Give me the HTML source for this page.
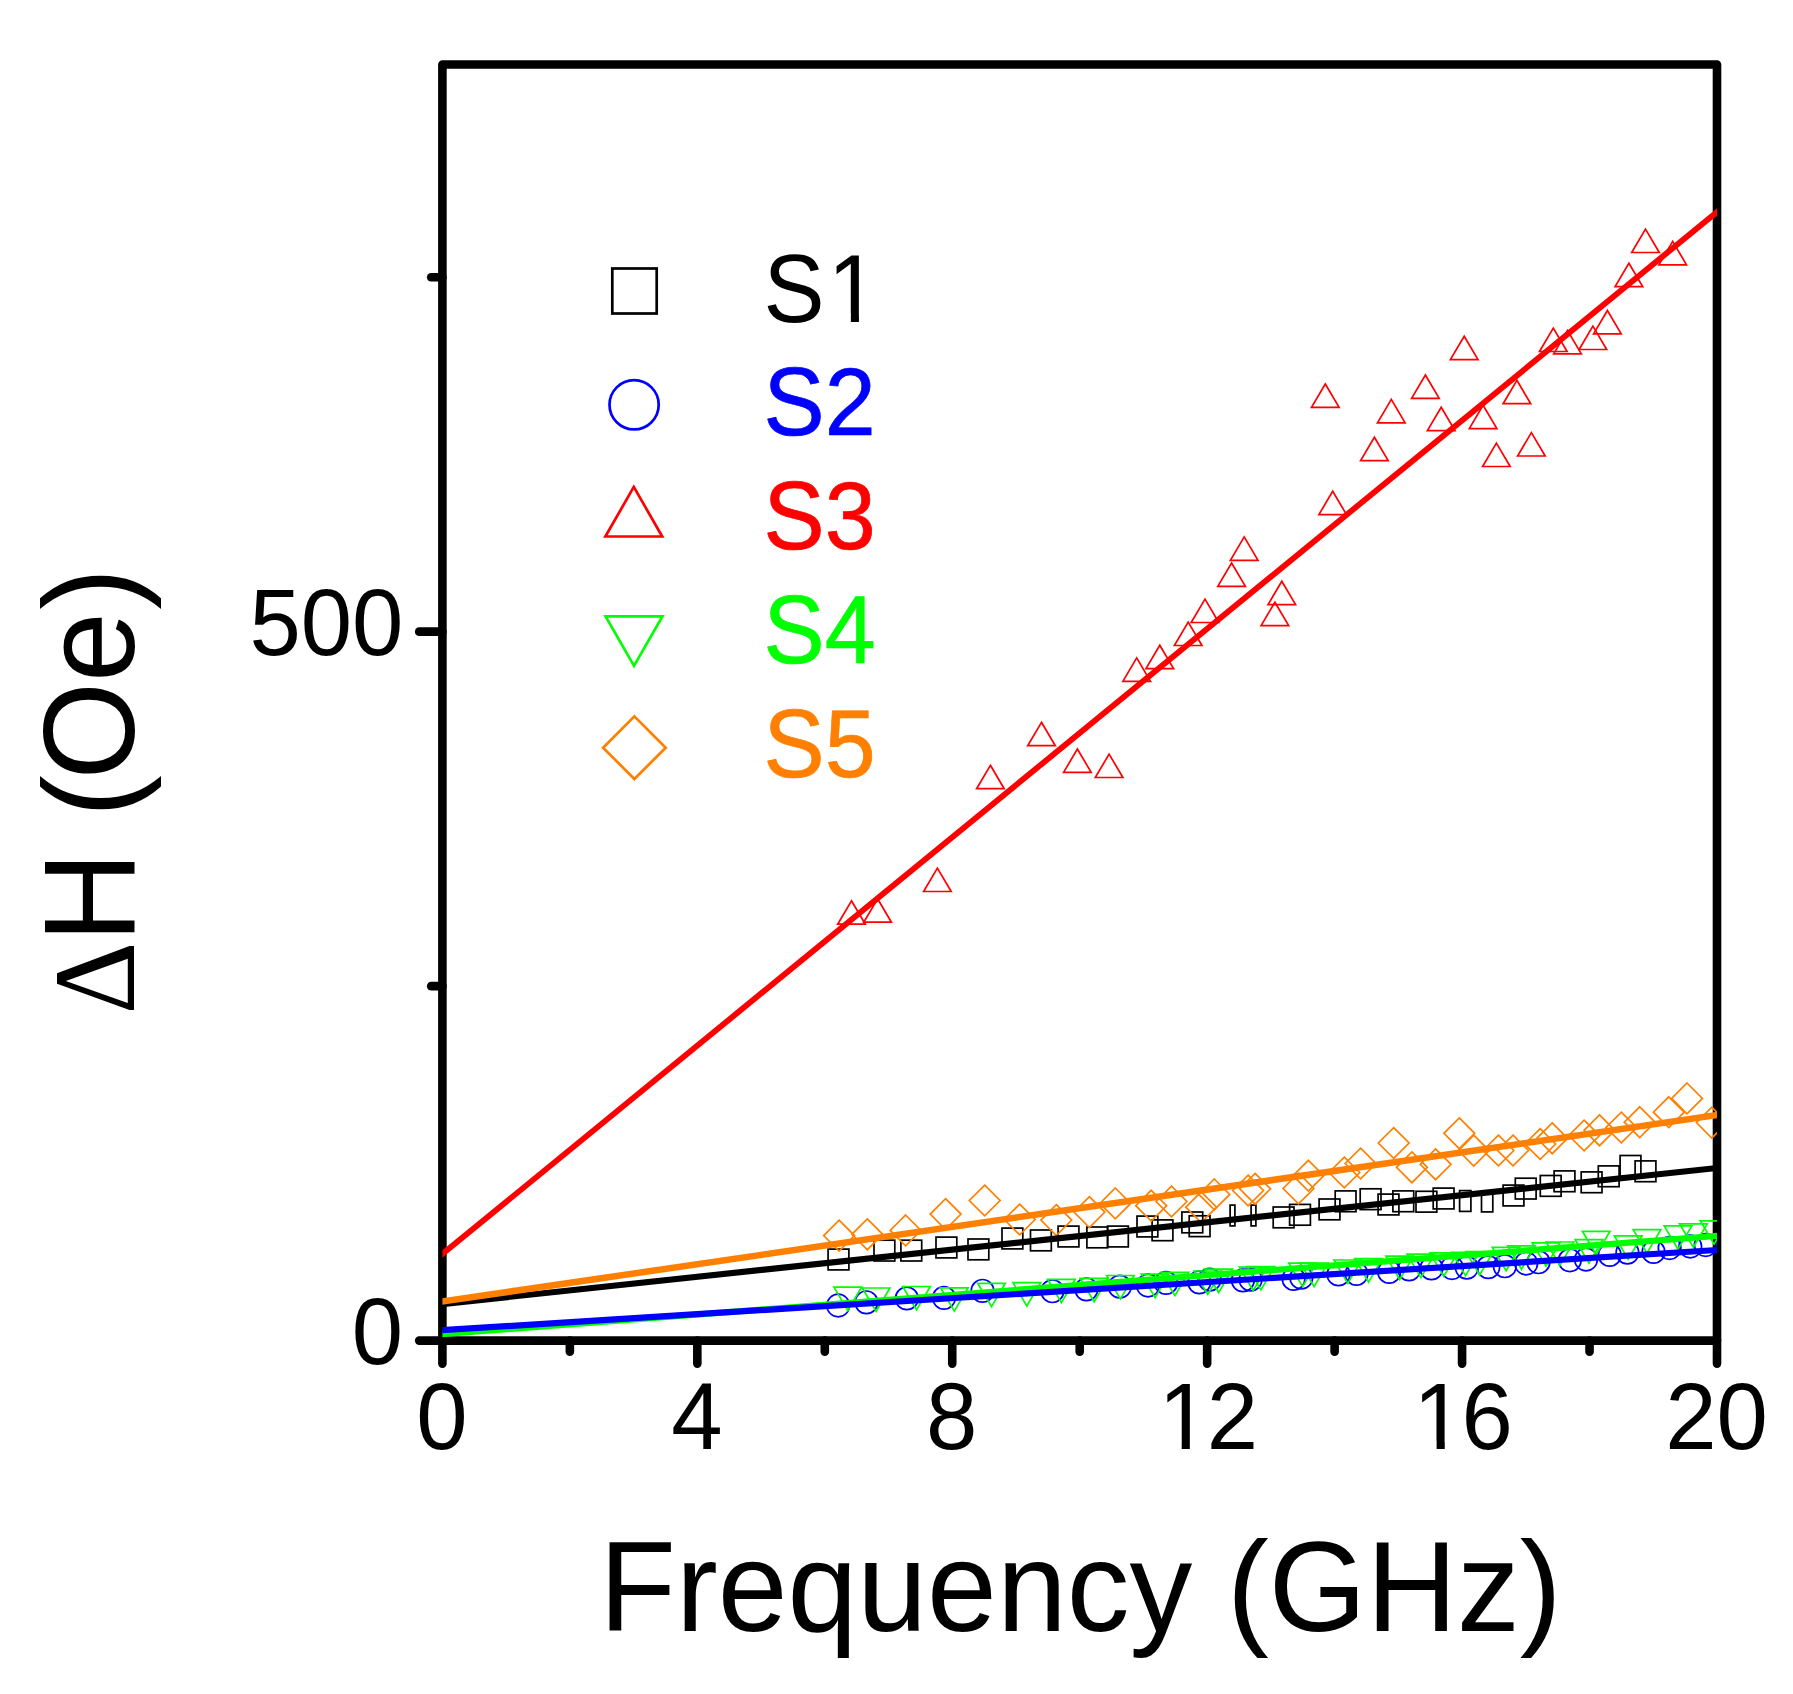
<!DOCTYPE html>
<html lang="en"><head><meta charset="utf-8"><title>Linewidth vs Frequency</title>
<style>
html,body{margin:0;padding:0;background:#fff;}
body{width:1793px;height:1694px;overflow:hidden;}
svg{display:block;}
text{font-family:"Liberation Sans",sans-serif;}
.tick{font-size:92.3px;}
.ttl{font-size:125.5px;}
.mk{fill:none;stroke-width:1.70;stroke-linejoin:miter;}
.ax{stroke:#000;stroke-width:8.60;stroke-linecap:round;fill:none;}
</style></head><body>
<svg width="1793" height="1694" viewBox="0 0 1793 1694">
<rect x="0" y="0" width="1793" height="1694" fill="#ffffff"/>
<rect x="442.40" y="64.50" width="1274.60" height="1276.10" fill="none" stroke="#000" stroke-width="8.60" stroke-linejoin="round"/>
<g class="ax">
<line x1="442.40" y1="1340.60" x2="442.40" y2="1363.60"/>
<line x1="697.32" y1="1340.60" x2="697.32" y2="1363.60"/>
<line x1="952.24" y1="1340.60" x2="952.24" y2="1363.60"/>
<line x1="1207.16" y1="1340.60" x2="1207.16" y2="1363.60"/>
<line x1="1462.08" y1="1340.60" x2="1462.08" y2="1363.60"/>
<line x1="1717.00" y1="1340.60" x2="1717.00" y2="1363.60"/>
<line x1="569.86" y1="1340.60" x2="569.86" y2="1351.80"/>
<line x1="824.78" y1="1340.60" x2="824.78" y2="1351.80"/>
<line x1="1079.70" y1="1340.60" x2="1079.70" y2="1351.80"/>
<line x1="1334.62" y1="1340.60" x2="1334.62" y2="1351.80"/>
<line x1="1589.54" y1="1340.60" x2="1589.54" y2="1351.80"/>
<line x1="442.40" y1="1340.60" x2="419.20" y2="1340.60"/>
<line x1="442.40" y1="631.66" x2="419.20" y2="631.66"/>
<line x1="442.40" y1="986.13" x2="431.20" y2="986.13"/>
<line x1="442.40" y1="277.18" x2="431.20" y2="277.18"/>
</g>
<defs><clipPath id="plotclip"><rect x="442.40" y="64.50" width="1274.60" height="1276.10"/></clipPath></defs>
<g clip-path="url(#plotclip)">
<g class="mk" stroke="#000000">
<rect x="828.1" y="1249.1" width="20.8" height="20.8"/>
<rect x="874.0" y="1240.2" width="20.8" height="20.8"/>
<rect x="900.9" y="1240.2" width="20.8" height="20.8"/>
<rect x="936.0" y="1237.1" width="20.8" height="20.8"/>
<rect x="968.0" y="1239.0" width="20.8" height="20.8"/>
<rect x="1002.0" y="1228.1" width="20.8" height="20.8"/>
<rect x="1030.5" y="1230.0" width="20.8" height="20.8"/>
<rect x="1058.1" y="1226.1" width="20.8" height="20.8"/>
<rect x="1086.9" y="1227.0" width="20.8" height="20.8"/>
<rect x="1107.5" y="1226.1" width="20.8" height="20.8"/>
<rect x="1137.0" y="1216.1" width="20.8" height="20.8"/>
<rect x="1152.1" y="1219.9" width="20.8" height="20.8"/>
<rect x="1181.9" y="1212.0" width="20.8" height="20.8"/>
<rect x="1189.2" y="1215.8" width="20.8" height="20.8"/>
<rect x="1273.2" y="1207.0" width="20.8" height="20.8"/>
<rect x="1289.6" y="1204.4" width="20.8" height="20.8"/>
<rect x="1319.1" y="1199.0" width="20.8" height="20.8"/>
<rect x="1335.2" y="1190.9" width="20.8" height="20.8"/>
<rect x="1360.2" y="1188.8" width="20.8" height="20.8"/>
<rect x="1378.1" y="1194.1" width="20.8" height="20.8"/>
<rect x="1392.9" y="1190.9" width="20.8" height="20.8"/>
<rect x="1416.0" y="1191.3" width="20.8" height="20.8"/>
<rect x="1433.2" y="1188.1" width="20.8" height="20.8"/>
<rect x="1503.1" y="1185.1" width="20.8" height="20.8"/>
<rect x="1515.3" y="1178.2" width="20.8" height="20.8"/>
<rect x="1540.3" y="1175.5" width="20.8" height="20.8"/>
<rect x="1554.1" y="1170.9" width="20.8" height="20.8"/>
<rect x="1581.2" y="1171.9" width="20.8" height="20.8"/>
<rect x="1598.3" y="1165.9" width="20.8" height="20.8"/>
<rect x="1620.1" y="1155.5" width="20.8" height="20.8"/>
<rect x="1635.1" y="1160.9" width="20.8" height="20.8"/>
<rect x="1230.1" y="1205.1" width="4.8" height="20.8"/>
<rect x="1251.1" y="1205.1" width="4.8" height="20.8"/>
<rect x="1459.6" y="1190.6" width="11.3" height="20.8"/>
<rect x="1481.5" y="1191.1" width="11.3" height="20.8"/>
</g>
<g class="mk" stroke="#0000ff">
<circle cx="838.2" cy="1305.5" r="11.3"/>
<circle cx="866.4" cy="1302.3" r="11.3"/>
<circle cx="906.8" cy="1298.4" r="11.3"/>
<circle cx="944.0" cy="1297.8" r="11.3"/>
<circle cx="982.5" cy="1290.8" r="11.3"/>
<circle cx="1052.4" cy="1291.2" r="11.3"/>
<circle cx="1086.4" cy="1289.3" r="11.3"/>
<circle cx="1119.8" cy="1286.7" r="11.3"/>
<circle cx="1148.0" cy="1285.5" r="11.3"/>
<circle cx="1166.0" cy="1282.9" r="11.3"/>
<circle cx="1199.3" cy="1282.3" r="11.3"/>
<circle cx="1209.6" cy="1279.7" r="11.3"/>
<circle cx="1242.9" cy="1280.3" r="11.3"/>
<circle cx="1250.6" cy="1279.7" r="11.3"/>
<circle cx="1293.6" cy="1278.9" r="11.3"/>
<circle cx="1301.3" cy="1277.7" r="11.3"/>
<circle cx="1338.5" cy="1274.4" r="11.3"/>
<circle cx="1356.5" cy="1273.8" r="11.3"/>
<circle cx="1389.2" cy="1271.9" r="11.3"/>
<circle cx="1409.1" cy="1269.3" r="11.3"/>
<circle cx="1431.5" cy="1268.3" r="11.3"/>
<circle cx="1452.0" cy="1268.0" r="11.3"/>
<circle cx="1466.8" cy="1267.6" r="11.3"/>
<circle cx="1488.3" cy="1267.1" r="11.3"/>
<circle cx="1504.8" cy="1266.2" r="11.3"/>
<circle cx="1526.2" cy="1263.5" r="11.3"/>
<circle cx="1538.5" cy="1262.2" r="11.3"/>
<circle cx="1569.8" cy="1260.3" r="11.3"/>
<circle cx="1586.0" cy="1259.5" r="11.3"/>
<circle cx="1609.7" cy="1254.9" r="11.3"/>
<circle cx="1627.4" cy="1252.6" r="11.3"/>
<circle cx="1653.5" cy="1251.9" r="11.3"/>
<circle cx="1669.6" cy="1248.0" r="11.3"/>
<circle cx="1690.3" cy="1246.5" r="11.3"/>
<circle cx="1705.7" cy="1245.0" r="11.3"/>
</g>
<g class="mk" stroke="#ff0000">
<path d="M851.5 900.8L865.3 924.2L837.7 924.2Z"/>
<path d="M877.6 898.8L891.4 922.2L863.8 922.2Z"/>
<path d="M937.4 868.1L951.2 891.5L923.6 891.5Z"/>
<path d="M990.4 765.3L1004.2 788.7L976.6 788.7Z"/>
<path d="M1041.5 722.3L1055.3 745.7L1027.7 745.7Z"/>
<path d="M1077.4 749.0L1091.2 772.4L1063.6 772.4Z"/>
<path d="M1109.1 754.1L1122.9 777.5L1095.3 777.5Z"/>
<path d="M1136.7 657.9L1150.5 681.3L1122.9 681.3Z"/>
<path d="M1159.8 645.2L1173.6 668.6L1146.0 668.6Z"/>
<path d="M1188.2 622.1L1202.0 645.5L1174.4 645.5Z"/>
<path d="M1205.0 599.1L1218.8 622.5L1191.2 622.5Z"/>
<path d="M1231.6 563.0L1245.4 586.4L1217.8 586.4Z"/>
<path d="M1244.2 536.9L1258.0 560.3L1230.4 560.3Z"/>
<path d="M1274.9 602.2L1288.7 625.6L1261.1 625.6Z"/>
<path d="M1281.8 581.2L1295.6 604.6L1268.0 604.6Z"/>
<path d="M1325.3 384.0L1339.1 407.4L1311.5 407.4Z"/>
<path d="M1332.7 491.2L1346.5 514.6L1318.9 514.6Z"/>
<path d="M1374.4 437.2L1388.2 460.6L1360.6 460.6Z"/>
<path d="M1391.3 399.4L1405.1 422.8L1377.5 422.8Z"/>
<path d="M1425.4 375.0L1439.2 398.4L1411.6 398.4Z"/>
<path d="M1441.2 407.2L1455.0 430.6L1427.4 430.6Z"/>
<path d="M1464.2 336.2L1478.0 359.6L1450.4 359.6Z"/>
<path d="M1483.1 405.2L1496.9 428.6L1469.3 428.6Z"/>
<path d="M1496.4 443.1L1510.2 466.5L1482.6 466.5Z"/>
<path d="M1531.4 432.6L1545.2 456.0L1517.6 456.0Z"/>
<path d="M1516.9 380.3L1530.7 403.7L1503.1 403.7Z"/>
<path d="M1553.3 328.1L1567.1 351.5L1539.5 351.5Z"/>
<path d="M1567.5 330.4L1581.3 353.8L1553.7 353.8Z"/>
<path d="M1592.9 326.1L1606.7 349.5L1579.1 349.5Z"/>
<path d="M1607.4 310.5L1621.2 333.9L1593.6 333.9Z"/>
<path d="M1628.9 263.2L1642.7 286.6L1615.1 286.6Z"/>
<path d="M1672.7 241.4L1686.5 264.8L1658.9 264.8Z"/>
<path d="M1645.5 229.1L1659.3 252.5L1631.7 252.5Z"/>
</g>
<g class="mk" stroke="#00ff00">
<path d="M834.0 1287.1L861.6 1287.1L847.8 1310.5Z"/>
<path d="M862.3 1288.0L889.9 1288.0L876.1 1311.4Z"/>
<path d="M902.7 1286.5L930.3 1286.5L916.5 1309.9Z"/>
<path d="M940.5 1287.8L968.1 1287.8L954.3 1311.2Z"/>
<path d="M977.7 1283.3L1005.3 1283.3L991.5 1306.7Z"/>
<path d="M1013.0 1282.6L1040.6 1282.6L1026.8 1306.0Z"/>
<path d="M1047.6 1279.3L1075.2 1279.3L1061.4 1302.7Z"/>
<path d="M1080.3 1278.4L1107.9 1278.4L1094.1 1301.8Z"/>
<path d="M1106.6 1275.5L1134.2 1275.5L1120.4 1298.9Z"/>
<path d="M1141.3 1274.2L1168.9 1274.2L1155.1 1297.6Z"/>
<path d="M1161.1 1272.3L1188.7 1272.3L1174.9 1295.7Z"/>
<path d="M1193.9 1271.0L1221.5 1271.0L1207.7 1294.4Z"/>
<path d="M1204.8 1269.1L1232.4 1269.1L1218.6 1292.5Z"/>
<path d="M1239.4 1267.1L1267.0 1267.1L1253.2 1290.5Z"/>
<path d="M1247.1 1266.5L1274.7 1266.5L1260.9 1289.9Z"/>
<path d="M1288.8 1263.2L1316.4 1263.2L1302.6 1286.6Z"/>
<path d="M1300.3 1263.2L1327.9 1263.2L1314.1 1286.6Z"/>
<path d="M1334.0 1260.0L1361.6 1260.0L1347.8 1283.4Z"/>
<path d="M1354.8 1258.7L1382.4 1258.7L1368.6 1282.1Z"/>
<path d="M1385.9 1256.1L1413.5 1256.1L1399.7 1279.5Z"/>
<path d="M1407.1 1254.2L1434.7 1254.2L1420.9 1277.6Z"/>
<path d="M1429.9 1252.9L1457.5 1252.9L1443.7 1276.3Z"/>
<path d="M1451.7 1252.3L1479.3 1252.3L1465.5 1275.7Z"/>
<path d="M1465.8 1251.6L1493.4 1251.6L1479.6 1275.0Z"/>
<path d="M1492.3 1247.4L1519.9 1247.4L1506.1 1270.8Z"/>
<path d="M1507.7 1245.9L1535.3 1245.9L1521.5 1269.3Z"/>
<path d="M1532.2 1242.8L1559.8 1242.8L1546.0 1266.2Z"/>
<path d="M1546.1 1242.0L1573.7 1242.0L1559.9 1265.4Z"/>
<path d="M1575.2 1239.7L1602.8 1239.7L1589.0 1263.1Z"/>
<path d="M1582.4 1231.3L1610.0 1231.3L1596.2 1254.7Z"/>
<path d="M1614.4 1235.9L1642.0 1235.9L1628.2 1259.3Z"/>
<path d="M1633.2 1229.7L1660.8 1229.7L1647.0 1253.1Z"/>
<path d="M1664.2 1225.9L1691.8 1225.9L1678.0 1249.3Z"/>
<path d="M1679.6 1223.9L1707.2 1223.9L1693.4 1247.3Z"/>
<path d="M1700.3 1220.8L1727.9 1220.8L1714.1 1244.2Z"/>
</g>
<g class="mk" stroke="#ff8000">
<path d="M839.1 1220.2L854.5 1235.6L839.1 1251.0L823.7 1235.6Z"/>
<path d="M867.3 1218.9L882.7 1234.3L867.3 1249.7L851.9 1234.3Z"/>
<path d="M905.6 1215.0L921.0 1230.4L905.6 1245.8L890.2 1230.4Z"/>
<path d="M945.6 1198.7L961.0 1214.1L945.6 1229.5L930.2 1214.1Z"/>
<path d="M984.7 1185.1L1000.1 1200.5L984.7 1215.9L969.3 1200.5Z"/>
<path d="M1019.7 1204.1L1035.1 1219.5L1019.7 1234.9L1004.3 1219.5Z"/>
<path d="M1056.3 1204.7L1071.7 1220.1L1056.3 1235.5L1040.9 1220.1Z"/>
<path d="M1089.4 1196.7L1104.8 1212.1L1089.4 1227.5L1074.0 1212.1Z"/>
<path d="M1115.3 1188.0L1130.7 1203.4L1115.3 1218.8L1099.9 1203.4Z"/>
<path d="M1151.2 1190.3L1166.6 1205.7L1151.2 1221.1L1135.8 1205.7Z"/>
<path d="M1171.5 1186.1L1186.9 1201.5L1171.5 1216.9L1156.1 1201.5Z"/>
<path d="M1201.2 1191.8L1216.6 1207.2L1201.2 1222.6L1185.8 1207.2Z"/>
<path d="M1214.3 1179.0L1229.7 1194.4L1214.3 1209.8L1198.9 1194.4Z"/>
<path d="M1248.1 1175.1L1263.5 1190.5L1248.1 1205.9L1232.7 1190.5Z"/>
<path d="M1255.1 1173.4L1270.5 1188.8L1255.1 1204.2L1239.7 1188.8Z"/>
<path d="M1298.5 1173.1L1313.9 1188.5L1298.5 1203.9L1283.1 1188.5Z"/>
<path d="M1308.4 1160.3L1323.8 1175.7L1308.4 1191.1L1293.0 1175.7Z"/>
<path d="M1344.3 1157.1L1359.7 1172.5L1344.3 1187.9L1328.9 1172.5Z"/>
<path d="M1360.6 1148.1L1376.0 1163.5L1360.6 1178.9L1345.2 1163.5Z"/>
<path d="M1393.7 1127.6L1409.1 1143.0L1393.7 1158.4L1378.3 1143.0Z"/>
<path d="M1411.9 1151.9L1427.3 1167.3L1411.9 1182.7L1396.5 1167.3Z"/>
<path d="M1435.6 1148.9L1451.0 1164.3L1435.6 1179.7L1420.2 1164.3Z"/>
<path d="M1459.3 1117.9L1474.7 1133.3L1459.3 1148.7L1443.9 1133.3Z"/>
<path d="M1473.8 1135.2L1489.2 1150.6L1473.8 1166.0L1458.4 1150.6Z"/>
<path d="M1498.4 1135.1L1513.8 1150.5L1498.4 1165.9L1483.0 1150.5Z"/>
<path d="M1513.0 1135.1L1528.4 1150.5L1513.0 1165.9L1497.6 1150.5Z"/>
<path d="M1540.2 1128.6L1555.6 1144.0L1540.2 1159.4L1524.8 1144.0Z"/>
<path d="M1552.2 1122.9L1567.6 1138.3L1552.2 1153.7L1536.8 1138.3Z"/>
<path d="M1584.1 1120.1L1599.5 1135.5L1584.1 1150.9L1568.7 1135.5Z"/>
<path d="M1599.5 1114.9L1614.9 1130.3L1599.5 1145.7L1584.1 1130.3Z"/>
<path d="M1621.3 1112.1L1636.7 1127.5L1621.3 1142.9L1605.9 1127.5Z"/>
<path d="M1639.7 1106.8L1655.1 1122.2L1639.7 1137.6L1624.3 1122.2Z"/>
<path d="M1668.8 1096.8L1684.2 1112.2L1668.8 1127.6L1653.4 1112.2Z"/>
<path d="M1687.0 1083.0L1702.4 1098.4L1687.0 1113.8L1671.6 1098.4Z"/>
<path d="M1711.8 1107.2L1727.2 1122.6L1711.8 1138.0L1696.4 1122.6Z"/>
</g>
</g>
<g clip-path="url(#plotclip)">
<line x1="434.40" y1="1304.85" x2="1725.00" y2="1167.15" stroke="#000000" stroke-width="6.20" stroke-linecap="butt"/>
<line x1="434.40" y1="1334.82" x2="1725.00" y2="1235.18" stroke="#00ff00" stroke-width="6.20" stroke-linecap="butt"/>
<line x1="434.40" y1="1330.70" x2="1725.00" y2="1249.50" stroke="#0000ff" stroke-width="6.20" stroke-linecap="butt"/>
<line x1="434.40" y1="1260.54" x2="1725.00" y2="205.46" stroke="#ff0000" stroke-width="5.80" stroke-linecap="butt"/>
<line x1="434.40" y1="1302.67" x2="1725.00" y2="1113.83" stroke="#ff8000" stroke-width="6.50" stroke-linecap="butt"/>
</g>
<text class="tick" transform="translate(441.90 1449.20) scale(1 1.030)" text-anchor="middle" fill="#000">0</text>
<text class="tick" transform="translate(696.82 1449.20) scale(1 1.030)" text-anchor="middle" fill="#000">4</text>
<text class="tick" transform="translate(951.74 1449.20) scale(1 1.030)" text-anchor="middle" fill="#000">8</text>
<g transform="translate(1155.33 1449.20) scale(1 1.030)">
<text style="font-size:92.30px" fill="#000"><tspan dx="3.14">1</tspan><tspan dx="-3.14">2</tspan></text>
<rect x="8.68" y="-7.49" width="17.68" height="8.49" fill="#fff"/>
<rect x="34.50" y="-7.49" width="16.91" height="8.49" fill="#fff"/>
</g>
<g transform="translate(1410.25 1449.20) scale(1 1.030)">
<text style="font-size:92.30px" fill="#000"><tspan dx="3.14">1</tspan><tspan dx="-3.14">6</tspan></text>
<rect x="8.68" y="-7.49" width="17.68" height="8.49" fill="#fff"/>
<rect x="34.50" y="-7.49" width="16.91" height="8.49" fill="#fff"/>
</g>
<text class="tick" transform="translate(1716.50 1449.20) scale(1 1.030)" text-anchor="middle" fill="#000">20</text>
<text class="tick" transform="translate(403.40 655.00) scale(1 1.030)" text-anchor="end" fill="#000">500</text>
<text class="tick" transform="translate(403.20 1364.00) scale(1 1.030)" text-anchor="end" fill="#000">0</text>
<text class="ttl" transform="translate(599.30 1630.80) scale(1 1.020)" text-anchor="start" fill="#000">Frequency (GHz)</text>
<g transform="translate(134.3 0) rotate(-90)">
<text transform="translate(-1014.2 0) scale(1 1.040)" fill="#000" style="font-family:'Liberation Serif',serif;font-size:112.5px;">Δ</text>
<text class="ttl" transform="translate(-942.50 0.00) scale(1 1.030)" text-anchor="start" fill="#000">H (<tspan dx="-4.3">Oe</tspan><tspan dx="2.3">)</tspan></text>
</g>
<g fill="none" stroke-width="2.7" stroke-linejoin="miter">
<rect x="612.3" y="268.5" width="44.4" height="45" stroke="#000000"/>
<circle cx="634.1" cy="404.8" r="24.6" stroke="#0000ff"/>
<path d="M633.8 486.9L662.2 536.5L605.4 536.5Z" stroke="#ff0000"/>
<path d="M605.6 616.4L662.4 616.4L634.0 665.8Z" stroke="#00ff00"/>
<path d="M634.4 716.4L665.7 747.7L634.4 779.0L603.1 747.7Z" stroke="#ff8000"/>
</g>
<g transform="translate(763.60 321.60) scale(1 1.055)">
<text style="font-size:91.60px" fill="#000000">S<tspan dx="3.11">1</tspan><tspan dx="-3.11"></tspan></text>
<rect x="69.71" y="-7.44" width="17.54" height="8.44" fill="#fff"/>
<rect x="95.34" y="-7.44" width="16.78" height="8.44" fill="#fff"/>
</g>
<text class="tick" transform="translate(763.60 435.30) scale(1 1.050)" text-anchor="start" fill="#0000ff" style="font-size:91.60px" stroke="#0000ff" stroke-width="0.7">S2</text>
<text class="tick" transform="translate(763.60 549.30) scale(1 1.050)" text-anchor="start" fill="#ff0000" style="font-size:91.60px" stroke="#ff0000" stroke-width="0.7">S3</text>
<text class="tick" transform="translate(763.60 663.30) scale(1 1.050)" text-anchor="start" fill="#00ff00" style="font-size:91.60px" stroke="#00ff00" stroke-width="0.7">S4</text>
<text class="tick" transform="translate(763.60 777.30) scale(1 1.050)" text-anchor="start" fill="#ff8000" style="font-size:91.60px" stroke="#ff8000" stroke-width="0.7">S5</text>
</svg>
</body></html>
